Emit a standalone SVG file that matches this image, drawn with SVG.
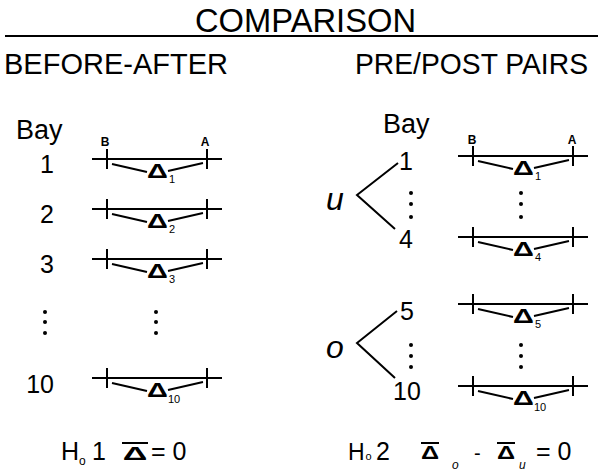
<svg xmlns="http://www.w3.org/2000/svg" width="598" height="474" viewBox="0 0 598 474">
<defs>
<style>
text{font-family:"Liberation Sans",Arial,sans-serif;fill:#000}
.hd{font-size:29px}
.num{font-size:25px}
.bay{font-size:27px}
.ba{font-size:12px;font-weight:bold;text-anchor:middle}
.it{font-style:italic}
.dl{font-size:20px;font-weight:bold;text-anchor:middle}
.sub{font-size:11px}
.ln{stroke:#000;stroke-width:2;fill:none}
.dot{fill:#000}
</style>
<g id="bar">
<path class="ln" d="M0,0H130M15,-10V10M115,-10V10M20,5L55,13M76,12L111,4"/>
</g>
</defs>
<rect width="598" height="474" fill="#fff"/>
<g id="title">
<text x="195" y="32" font-size="33" textLength="221" lengthAdjust="spacingAndGlyphs">COMPARISON</text>
<line x1="5" y1="36" x2="598" y2="36" stroke="#000" stroke-width="2"/>
</g>
<g id="head-left"><text class="hd" x="4" y="74" textLength="224" lengthAdjust="spacingAndGlyphs">BEFORE-AFTER</text></g>
<g id="head-right"><text class="hd" x="355" y="74" textLength="233" lengthAdjust="spacingAndGlyphs">PRE/POST PAIRS</text></g>

<g id="left-labels">
<text class="bay" x="16" y="139">Bay</text>
<text class="ba" x="105" y="146">B</text>
<text class="ba" x="205" y="146">A</text>
<text class="num" x="54" y="173" text-anchor="end">1</text>
<text class="num" x="54" y="223" text-anchor="end">2</text>
<text class="num" x="54" y="273" text-anchor="end">3</text>
<text class="num" x="54" y="393" text-anchor="end">10</text>
<circle class="dot" cx="45" cy="312" r="2"/><circle class="dot" cx="45" cy="322" r="2"/><circle class="dot" cx="45" cy="333" r="2"/>
<circle class="dot" cx="156" cy="312" r="2"/><circle class="dot" cx="156" cy="322" r="2"/><circle class="dot" cx="156" cy="333" r="2"/>
</g>

<g id="left-bar-1"><use href="#bar" x="92" y="159"/><text class="dl" transform="translate(157.5,178) scale(1.45,1)">Δ</text><text class="sub" x="169" y="183">1</text></g>
<g id="left-bar-2"><use href="#bar" x="92" y="209"/><text class="dl" transform="translate(157.5,228) scale(1.45,1)">Δ</text><text class="sub" x="169" y="233">2</text></g>
<g id="left-bar-3"><use href="#bar" x="92" y="259"/><text class="dl" transform="translate(157.5,278) scale(1.45,1)">Δ</text><text class="sub" x="169" y="283">3</text></g>
<g id="left-bar-10"><use href="#bar" x="92" y="378"/><text class="dl" transform="translate(157.5,397) scale(1.45,1)">Δ</text><text class="sub" x="168" y="403">10</text></g>

<g id="right-labels">
<text class="bay" x="383" y="133">Bay</text>
<text class="ba" x="472" y="144">B</text>
<text class="ba" x="572" y="144">A</text>
<text class="num" x="399" y="170">1</text>
<text class="num" x="399" y="248">4</text>
<text class="num" x="400" y="320">5</text>
<text class="num" x="393" y="400">10</text>
<circle class="dot" cx="411" cy="193" r="2"/><circle class="dot" cx="411" cy="204" r="2"/><circle class="dot" cx="411" cy="217" r="2"/>
<circle class="dot" cx="521" cy="193" r="2"/><circle class="dot" cx="521" cy="204" r="2"/><circle class="dot" cx="521" cy="217" r="2"/>
<circle class="dot" cx="411" cy="345" r="2"/><circle class="dot" cx="411" cy="356" r="2"/><circle class="dot" cx="411" cy="367" r="2"/>
<circle class="dot" cx="521" cy="345" r="2"/><circle class="dot" cx="521" cy="356" r="2"/><circle class="dot" cx="521" cy="367" r="2"/>
</g>

<g id="group-u">
<text class="it" x="326" y="210" font-size="32">u</text>
<path class="ln" d="M398,163L357,195L395,229"/>
</g>
<g id="group-o">
<text class="it" x="326" y="358" font-size="32">o</text>
<path class="ln" d="M397,311L357,343L395,378"/>
</g>

<g id="right-bar-1"><use href="#bar" x="458" y="156"/><text class="dl" transform="translate(523.5,175) scale(1.45,1)">Δ</text><text class="sub" x="535" y="180">1</text></g>
<g id="right-bar-4"><use href="#bar" x="458" y="237"/><text class="dl" transform="translate(523.5,256) scale(1.45,1)">Δ</text><text class="sub" x="535" y="261">4</text></g>
<g id="right-bar-5"><use href="#bar" x="458" y="304"/><text class="dl" transform="translate(523.5,323) scale(1.45,1)">Δ</text><text class="sub" x="535" y="328">5</text></g>
<g id="right-bar-10"><use href="#bar" x="458" y="386"/><text class="dl" transform="translate(523.5,405) scale(1.45,1)">Δ</text><text class="sub" x="534" y="411">10</text></g>

<g id="hyp-1">
<text x="61" y="460" font-size="25">H</text>
<text x="79" y="465" font-size="12">o</text>
<text x="92" y="460" font-size="25">1</text>
<line x1="122" y1="443" x2="148" y2="443" stroke="#000" stroke-width="2"/>
<text font-size="19" font-weight="bold" text-anchor="middle" transform="translate(135,460) scale(1.8,1)">Δ</text>
<text x="151" y="460" font-size="25">= 0</text>
</g>
<g id="hyp-2">
<text x="348" y="460" font-size="23">H</text>
<text x="365.5" y="460" font-size="11">o</text>
<text x="376" y="460" font-size="25">2</text>
<line x1="421" y1="443" x2="439" y2="443" stroke="#000" stroke-width="2"/>
<text font-size="18" font-weight="bold" text-anchor="middle" transform="translate(430,459) scale(1.4,1)">Δ</text>
<text class="it" x="452" y="469" font-size="12">o</text>
<text x="474" y="460" font-size="20">-</text>
<line x1="497" y1="443" x2="515" y2="443" stroke="#000" stroke-width="2"/>
<text font-size="18" font-weight="bold" text-anchor="middle" transform="translate(506,459) scale(1.4,1)">Δ</text>
<text class="it" x="519" y="469" font-size="12">u</text>
<text x="536" y="460" font-size="25">= 0</text>
</g>
</svg>
